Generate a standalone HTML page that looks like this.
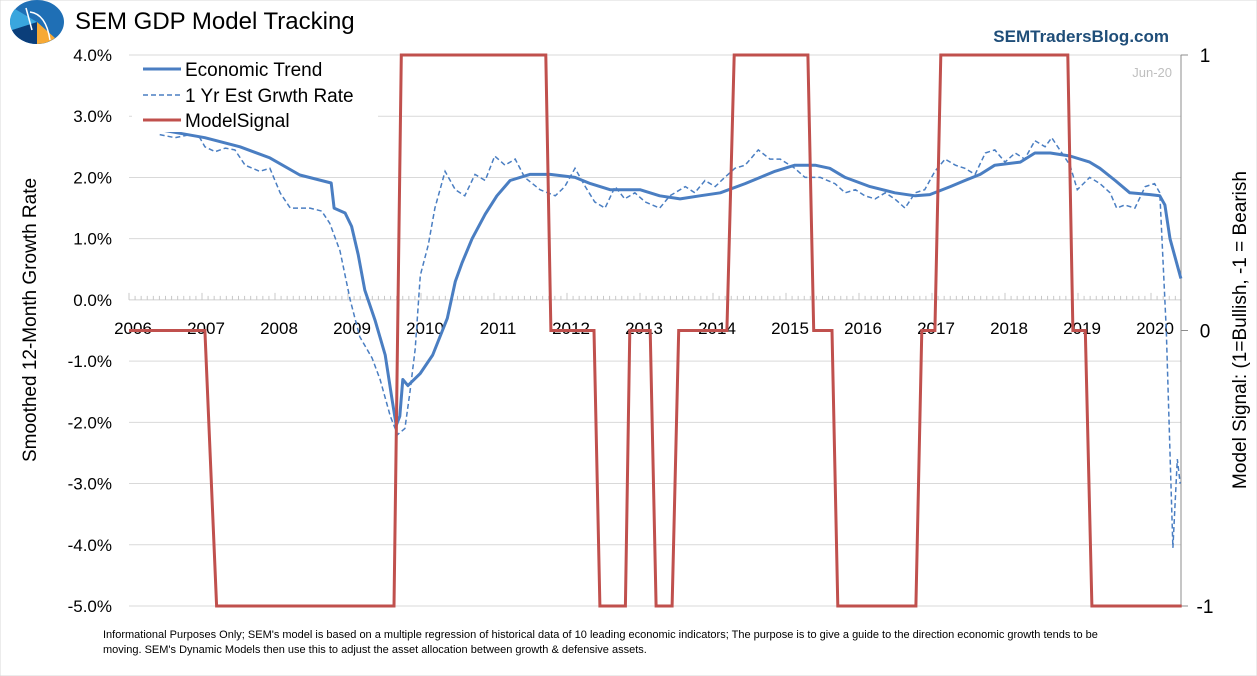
<!DOCTYPE html>
<html><head><meta charset="utf-8">
<style>
body{margin:0;background:#fff;}
svg{display:block;font-family:"Liberation Sans",sans-serif;}
</style></head>
<body>
<svg id="chart" width="1257" height="676" viewBox="0 0 1257 676" xmlns="http://www.w3.org/2000/svg">
<rect x="0" y="0" width="1257" height="676" fill="#fff" stroke="#d9d9d9"/>
<g>
<ellipse cx="37" cy="22" rx="27" ry="22" fill="#1f6fb5"/>
<path d="M37 22 L12 30 A27 22 0 0 0 37 44 Z" fill="#0b3e7a"/>
<path d="M37 22 L55 38 A27 22 0 0 1 37 44 Z" fill="#f7a935"/>
<path d="M37 22 L12 30 A27 22 0 0 1 15 9 Z" fill="#3aa6de"/>
<path d="M26 8 L32 30 M30 12 Q46 14 50 40" stroke="#fff" stroke-width="1.5" fill="none"/>
</g>
<text x="75" y="29" font-size="24" fill="#000">SEM GDP Model Tracking</text>
<text x="1169" y="42" font-size="17" font-weight="bold" fill="#1f4e79" text-anchor="end">SEMTradersBlog.com</text>
<text x="1172" y="77" font-size="13" fill="#bfbfbf" text-anchor="end">Jun-20</text>
<g id="grid"></g>
<g id="axes"></g>
<g id="series"></g>
<g id="legend">
<rect x="132" y="57" width="246" height="75" fill="#fff"/>
<g><line x1="143" y1="69" x2="181" y2="69" stroke="#4a7ec2" stroke-width="3"/><text x="185" y="76" font-size="19">Economic Trend</text></g>
<g><line x1="143" y1="95" x2="181" y2="95" stroke="#4a7ec2" stroke-width="1.5" stroke-dasharray="5,3"/><text x="185" y="102" font-size="19">1 Yr Est Grwth Rate</text></g>
<g><line x1="143" y1="120" x2="181" y2="120" stroke="#c0504d" stroke-width="3"/><text x="185" y="127" font-size="19">ModelSignal</text></g>
</g>
<text transform="translate(36,320) rotate(-90)" font-size="19" text-anchor="middle">Smoothed 12-Month Growth Rate</text>
<text transform="translate(1246,330) rotate(-90)" font-size="19" text-anchor="middle">Model Signal: (1=Bullish, -1 = Bearish</text>
<text font-size="11" fill="#000"><tspan x="103" y="638">Informational Purposes Only; SEM's model is based on a multiple regression of historical data of 10 leading economic indicators; The purpose is to give a guide to the direction economic growth tends to be</tspan><tspan x="103" y="653">moving. SEM's Dynamic Models then use this to adjust the asset allocation between growth &amp; defensive assets.</tspan></text>
</svg>
<script>
const trendDates=[2006.42,2007.04,2007.52,2007.93,2008.34,2008.77,2008.81,2008.96,2009.05,2009.14,2009.23,2009.37,2009.51,2009.60,2009.66,2009.71,2009.75,2009.82,2009.99,2010.16,2010.36,2010.47,2010.56,2010.70,2010.88,2011.04,2011.22,2011.49,2011.77,2012.11,2012.32,2012.59,2013.0,2013.27,2013.55,2013.82,2014.10,2014.44,2014.85,2015.12,2015.40,2015.60,2015.81,2016.15,2016.49,2016.77,2016.97,2017.25,2017.45,2017.66,2017.86,2018.21,2018.41,2018.62,2018.89,2019.16,2019.30,2019.51,2019.71,2019.99,2020.12,2020.19,2020.26,2020.41];
const trendValues=[2.78,2.65,2.5,2.32,2.04,1.91,1.5,1.42,1.2,0.74,0.16,-0.33,-0.9,-1.6,-2.05,-1.9,-1.3,-1.4,-1.2,-0.9,-0.3,0.3,0.6,1.0,1.4,1.7,1.95,2.05,2.05,2.0,1.9,1.8,1.8,1.7,1.65,1.7,1.75,1.9,2.1,2.2,2.2,2.15,2.0,1.85,1.75,1.7,1.72,1.85,1.95,2.05,2.2,2.25,2.4,2.4,2.35,2.25,2.15,1.95,1.75,1.72,1.7,1.55,1.0,0.35];
const estDates=[2006.42,2006.63,2006.84,2006.97,2007.04,2007.18,2007.32,2007.45,2007.59,2007.79,2007.93,2008.07,2008.21,2008.48,2008.64,2008.75,2008.89,2009.03,2009.16,2009.33,2009.44,2009.58,2009.68,2009.78,2009.85,2009.92,2009.99,2010.10,2010.19,2010.33,2010.47,2010.60,2010.74,2010.88,2011.01,2011.15,2011.29,2011.42,2011.63,2011.84,2011.97,2012.11,2012.25,2012.38,2012.52,2012.66,2012.79,2012.93,2013.07,2013.27,2013.41,2013.62,2013.75,2013.89,2014.03,2014.16,2014.30,2014.44,2014.62,2014.78,2014.92,2015.12,2015.26,2015.47,2015.67,2015.81,2015.95,2016.08,2016.22,2016.36,2016.49,2016.63,2016.77,2016.90,2017.04,2017.18,2017.32,2017.45,2017.59,2017.73,2017.86,2018.0,2018.14,2018.27,2018.41,2018.55,2018.64,2018.75,2018.89,2018.99,2019.16,2019.30,2019.44,2019.53,2019.64,2019.78,2019.92,2020.05,2020.12,2020.21,2020.26,2020.30,2020.36,2020.40];
const estValues=[2.7,2.65,2.7,2.65,2.5,2.42,2.48,2.45,2.2,2.1,2.15,1.75,1.5,1.5,1.45,1.25,0.8,0.0,-0.6,-0.95,-1.3,-1.9,-2.2,-2.1,-1.5,-0.8,0.4,0.9,1.5,2.1,1.8,1.7,2.05,1.95,2.35,2.2,2.3,2.0,1.8,1.7,1.85,2.15,1.85,1.6,1.5,1.85,1.65,1.75,1.6,1.5,1.7,1.85,1.75,1.95,1.85,2.0,2.15,2.2,2.45,2.3,2.3,2.15,2.0,2.0,1.9,1.75,1.8,1.7,1.65,1.75,1.65,1.5,1.75,1.8,2.1,2.3,2.2,2.15,2.05,2.4,2.45,2.25,2.4,2.3,2.6,2.5,2.65,2.45,2.2,1.8,2.0,1.9,1.75,1.5,1.55,1.5,1.85,1.9,1.75,-0.5,-2.5,-4.05,-2.6,-3.0];
const signalDates=[2006.0,2007.04,2007.2,2009.63,2009.73,2011.71,2011.78,2012.37,2012.45,2012.8,2012.86,2013.14,2013.22,2013.44,2013.53,2014.19,2014.29,2015.3,2015.38,2015.63,2015.71,2016.78,2016.86,2017.04,2017.12,2018.86,2018.93,2019.1,2019.19,2020.42];
const signalValues=[0,0,-1,-1,1,1,0,0,-1,-1,0,0,-1,-1,0,0,1,1,0,0,-1,-1,0,0,1,1,0,0,-1,-1];
const leftTicks=[4,3,2,1,0,-1,-2,-3,-4,-5];
const rightTicks=[1,0,-1];
const yearTicks=[2006,2007,2008,2009,2010,2011,2012,2013,2014,2015,2016,2017,2018,2019,2020];

const X0=129,X1=1181,Y0=55,Y1=606;
const xS=y=>X0+(y-2006)*73;
const yL=v=>Y0+(4-v)*(Y1-Y0)/9;
const yR=v=>Y0+(1-v)*(Y1-Y0)/2;
const NS="http://www.w3.org/2000/svg";
function mk(tag,attrs,parent){const e=document.createElementNS(NS,tag);for(const k in attrs)e.setAttribute(k,attrs[k]);parent.appendChild(e);return e;}
const grid=document.getElementById('grid'),axes=document.getElementById('axes'),series=document.getElementById('series');
leftTicks.forEach(v=>{
  const g=mk('line',{x1:X0,x2:X1,y1:yL(v),y2:yL(v),stroke:v===0?'#d0d0d0':'#d9d9d9','stroke-width':1},grid);
  
  
  const t=mk('text',{x:X0-17,y:yL(v)+6,'font-size':17,'text-anchor':'end'},axes);
  t.textContent=v.toFixed(1)+'%';
  
  
});
for(let m=0;m<=174;m++){
  const x=X0+m*73/12;
  if(x>X1)break;
  const tk=mk('line',{x1:x,x2:x,y1:yL(0)-(m%12===0?7:4),y2:yL(0),stroke:'#c8c8c8','stroke-width':1},axes);
  
  
}
yearTicks.forEach(y=>{
  const t=mk('text',{x:xS(y)+4,y:yL(0)+34,'font-size':17,'text-anchor':'middle'},axes);
  t.textContent=y;
  
  
});
const ra=mk('line',{x1:X1,x2:X1,y1:Y0,y2:Y1,stroke:'#8c8c8c','stroke-width':1},axes);


rightTicks.forEach(v=>{
  mk('line',{x1:X1,x2:X1+7,y1:yR(v),y2:yR(v),stroke:'#8c8c8c'},axes);
  const t=mk('text',{x:X1+24,y:yR(v)+7,'font-size':19,'text-anchor':'middle'},axes);
  t.textContent=v;
  
  
});
function pts(d,v,f){return d.map((x,i)=>xS(x).toFixed(1)+','+f(v[i]).toFixed(1)).join(' ');}
const est=mk('polyline',{points:pts(estDates,estValues,yL),fill:'none',stroke:'#4a7ec2','stroke-width':1.5,'stroke-dasharray':'5,3'},series);


const tr=mk('polyline',{points:pts(trendDates,trendValues,yL),fill:'none',stroke:'#4a7ec2','stroke-width':3,'stroke-linejoin':'round'},series);


const sg=mk('polyline',{points:pts(signalDates,signalValues,yR),fill:'none',stroke:'#c0504d','stroke-width':3},series);


</script>
</body></html>
